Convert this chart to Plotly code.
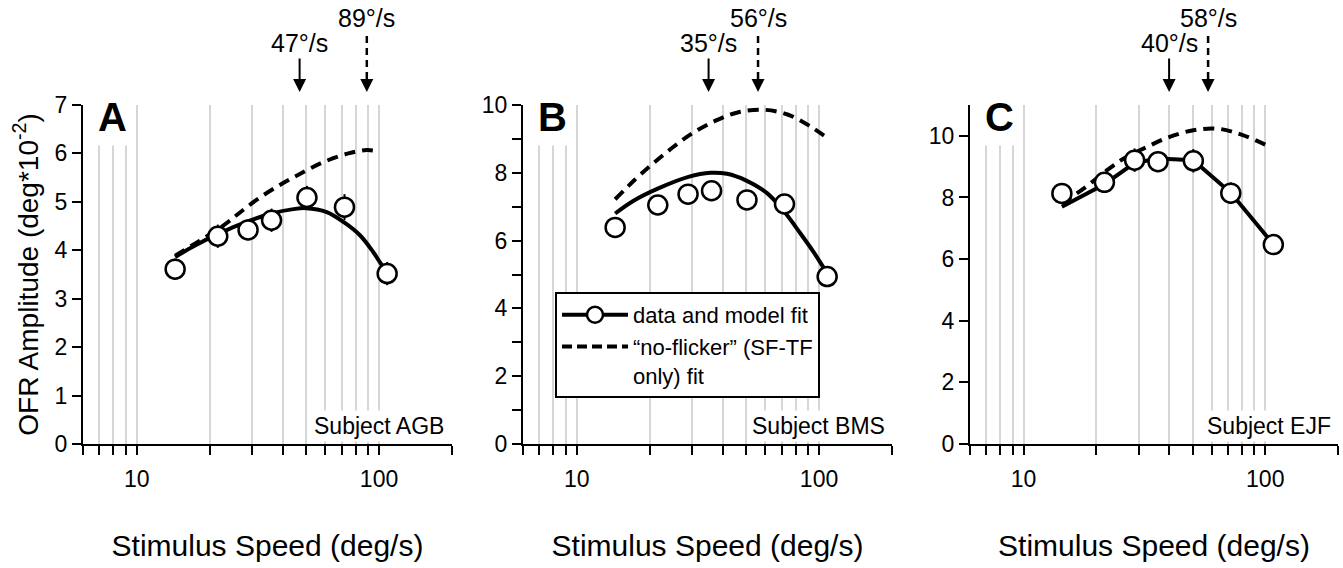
import numpy as np
import plotly.graph_objects as go

FONT = "Liberation Sans, Arial, Helvetica, sans-serif"
W, H = 1343, 568

# Stimulus speeds (deg/s) at which the OFR was measured
speed = [14.4, 21.6, 28.8, 36.0, 50.4, 72.0, 108.0]

# Measured OFR amplitude (deg*10^-2) and its error, per subject
amp_agb = [3.61, 4.29, 4.42, 4.62, 5.09, 4.89, 3.52]
err_agb = [0.22, 0.24, 0.21, 0.24, 0.24, 0.27, 0.24]
amp_bms = [6.39, 7.05, 7.37, 7.47, 7.20, 7.08, 4.94]
err_bms = [0.20, 0.22, 0.20, 0.22, 0.20, 0.22, 0.20]
amp_ejf = [8.13, 8.49, 9.21, 9.16, 9.19, 8.14, 6.47]
err_ejf = [0.30, 0.33, 0.38, 0.30, 0.38, 0.35, 0.33]

# Full model fit
fit_agb_x = [14.4, 17.1, 21.7, 28.9, 36.0, 44.3, 49.9, 60.8, 72.0, 83.4, 94.7, 102.5, 108.0]
fit_agb_y = [3.86, 4.08, 4.34, 4.60, 4.76, 4.85, 4.87, 4.79, 4.57, 4.31, 3.96, 3.70, 3.58]
fit_bms_x = [14.4, 17.1, 21.7, 28.9, 35.6, 41.7, 50.1, 61.0, 71.9, 83.8, 95.0, 104.5, 108.0]
fit_bms_y = [6.80, 7.17, 7.54, 7.88, 8.00, 7.97, 7.77, 7.40, 6.85, 6.21, 5.66, 5.20, 5.05]
fit_ejf_x = [14.4, 21.6, 28.8, 36.0, 50.4, 72.0, 108.0]
fit_ejf_y = [7.70, 8.43, 9.12, 9.26, 9.21, 8.15, 6.48]

# "No-flicker" (SF-TF only) fit
nf_agb_x = [14.4, 18.2, 22.9, 26.2, 31.2, 38.4, 46.9, 58.9, 74.7, 89.0, 100.0]
nf_agb_y = [3.89, 4.20, 4.52, 4.75, 5.04, 5.33, 5.57, 5.82, 6.00, 6.07, 6.04]
nf_bms_x = [14.4, 17.4, 20.7, 24.7, 29.9, 37.2, 46.1, 59.0, 74.1, 92.0, 107.9]
nf_bms_y = [7.22, 7.80, 8.28, 8.73, 9.16, 9.53, 9.78, 9.86, 9.72, 9.37, 9.03]
nf_ejf_x = [14.4, 18.0, 22.3, 26.3, 31.8, 39.7, 50.4, 63.8, 80.2, 106.0]
nf_ejf_y = [7.80, 8.33, 8.90, 9.29, 9.61, 9.95, 10.18, 10.23, 10.03, 9.62]

# Speeds of peak response for each fit
peak_fit = [47, 35, 40]
peak_nf = [89, 56, 58]

panel_letters = ["A", "B", "C"]
subjects = ["Subject AGB", "Subject BMS", "Subject EJF"]
y_max = [7, 10, 11]
y_tickvals = [list(range(0, 8)), list(range(0, 11)), list(range(0, 11, 2))]

x_tickvals = [6, 7, 8, 9, 10, 20, 30, 40, 50, 60, 70, 80, 90, 100, 200]
x_ticktext = ["" if v not in (10, 100) else str(v) for v in x_tickvals]

# panel placement (pixels)
x_dom_px = [(83, 452), (523, 892), (970, 1338)]
y_dom_px = (105, 444)


def px_x(p):
    return p / W


def px_y(p):
    return 1 - p / H


amps = [amp_agb, amp_bms, amp_ejf]
errs = [err_agb, err_bms, err_ejf]
fits = [(fit_agb_x, fit_agb_y, "spline"), (fit_bms_x, fit_bms_y, "spline"),
        (fit_ejf_x, fit_ejf_y, "linear")]
nfs = [(nf_agb_x, nf_agb_y), (nf_bms_x, nf_bms_y), (nf_ejf_x, nf_ejf_y)]

DASH = "11px,7px"
marker_style = dict(symbol="circle", size=19, color="white",
                    line=dict(color="black", width=2.5))

fig = go.Figure()
annotations = []
shapes = []

for i in range(3):
    n = "" if i == 0 else str(i + 1)
    xa, ya = "x" + n, "y" + n

    fig.add_trace(go.Scatter(x=nfs[i][0], y=nfs[i][1], mode="lines",
                             line=dict(color="black", width=4, dash=DASH, shape="spline"),
                             xaxis=xa, yaxis=ya, showlegend=False, hoverinfo="skip"))
    fig.add_trace(go.Scatter(x=fits[i][0], y=fits[i][1], mode="lines",
                             line=dict(color="black", width=4, shape=fits[i][2]),
                             xaxis=xa, yaxis=ya, showlegend=False, hoverinfo="skip"))
    fig.add_trace(go.Scatter(x=speed, y=amps[i], mode="markers", marker=marker_style,
                             error_y=dict(type="data", array=errs[i], color="black",
                                          thickness=2, width=0),
                             xaxis=xa, yaxis=ya, showlegend=False))

    x0, x1 = x_dom_px[i]
    fig.update_layout(**{
        "xaxis" + n: dict(
            type="log", range=[np.log10(6), np.log10(200)],
            domain=[px_x(x0), px_x(x1)], anchor=ya,
            tickmode="array", tickvals=x_tickvals, ticktext=x_ticktext,
            ticks="outside", ticklen=9, tickwidth=2, tickcolor="black",
            ticklabelstandoff=4,
            showline=True, linecolor="black", linewidth=2, mirror=False,
            showgrid=True, gridcolor="#d6d6d6", gridwidth=1.5, zeroline=False,
            tickfont=dict(size=23, color="black"),
            title=dict(text="Stimulus Speed (deg/s)", font=dict(size=30, color="black"),
                       standoff=44),
            automargin=False,
        ),
        "yaxis" + n: dict(
            range=[0, y_max[i]], domain=[px_y(y_dom_px[1]), px_y(y_dom_px[0])],
            anchor=xa, tickmode="array", tickvals=y_tickvals[i],
            ticktext=[str(v) if (i == 0 or v % 2 == 0) else "" for v in y_tickvals[i]],
            ticks="outside", ticklen=9, tickwidth=2, tickcolor="black",
            showline=True, linecolor="black", linewidth=2, showgrid=False,
            zeroline=False, tickfont=dict(size=23, color="black"),
            title=dict(text="OFR Amplitude (deg*10<sup>-2</sup>)" if i == 0 else "",
                       font=dict(size=28, color="black"), standoff=8),
            automargin=False,
        ),
    })

    # panel letter, on a white box that hides the top of the grid lines
    annotations.append(dict(
        text="<b>%s</b>" % panel_letters[i], xref="paper", yref="paper",
        x=px_x(x0 + 8), y=px_y(88), xanchor="left", yanchor="top",
        showarrow=False, font=dict(size=40, color="black"),
        bgcolor="white", borderpad=6))

    # subject label, on a white box at the lower right
    annotations.append(dict(
        text=subjects[i] + "\u00a0", xref="paper", yref="paper",
        x=px_x(x1 + 2), y=px_y(442), xanchor="right", yanchor="bottom",
        showarrow=False, font=dict(size=23, color="black"),
        bgcolor="white", borderpad=2))

    # solid arrow: peak of the full model fit
    annotations.append(dict(
        text="%d°/s" % peak_fit[i], xref=xa, yref="paper",
        x=np.log10(peak_fit[i]), y=px_y(92), ax=0, ay=-49,
        showarrow=True, arrowhead=2, arrowsize=1.3, arrowwidth=2, arrowcolor="black",
        font=dict(size=25, color="black")))

    # dashed arrow: peak of the no-flicker fit
    shapes.append(dict(
        type="line", xref=xa, yref="paper", x0=peak_nf[i], x1=peak_nf[i],
        y0=px_y(36), y1=px_y(82), line=dict(color="black", width=2.5, dash="7px,5px")))
    annotations.append(dict(
        text="", xref=xa, yref="paper", x=np.log10(peak_nf[i]), y=px_y(92),
        ax=0, ay=-14, showarrow=True, arrowhead=2, arrowsize=1.3, arrowwidth=2,
        arrowcolor="black"))
    annotations.append(dict(
        text="%d°/s" % peak_nf[i], xref=xa, yref="paper",
        x=np.log10(peak_nf[i]), y=px_y(18), xanchor="center", yanchor="middle",
        showarrow=False, font=dict(size=25, color="black")))

# legend entries
fig.add_trace(go.Scatter(x=[None], y=[None], mode="lines+markers", name="data and model fit",
                         line=dict(color="black", width=4), marker=marker_style,
                         xaxis="x2", yaxis="y2", showlegend=True))
fig.add_trace(go.Scatter(x=[None], y=[None], mode="lines",
                         name="\u201cno-flicker\u201d (SF-TF<br>only) fit",
                         line=dict(color="black", width=4, dash="10px,5px"),
                         xaxis="x2", yaxis="y2", showlegend=True))

fig.update_layout(
    width=W, height=H,
    margin=dict(l=0, r=0, t=0, b=0),
    paper_bgcolor="white", plot_bgcolor="white",
    font=dict(family=FONT, color="black"),
    annotations=annotations, shapes=shapes,
    legend=dict(x=px_x(555), y=px_y(292), xanchor="left", yanchor="top",
                bgcolor="white", bordercolor="black", borderwidth=2,
                font=dict(size=22, color="black"), itemwidth=66, valign="top",
                tracegroupgap=0),
)

fig.write_html("out.html")
